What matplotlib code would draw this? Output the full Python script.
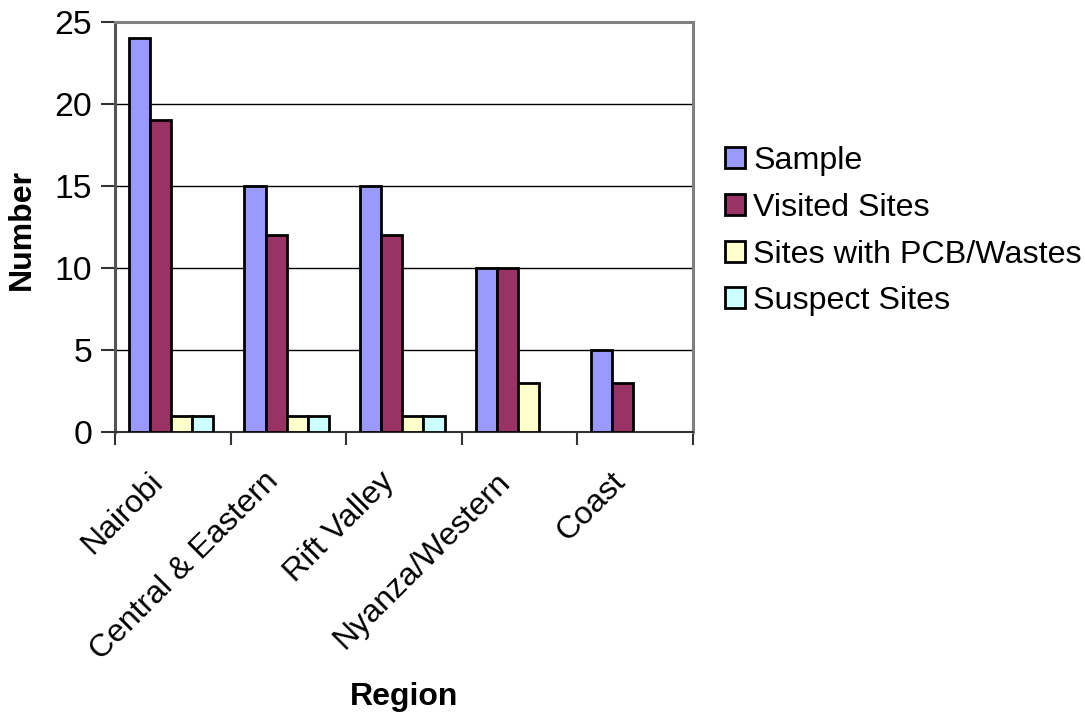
import numpy as np
import matplotlib
matplotlib.use("Agg")
import matplotlib.pyplot as plt
from matplotlib.patches import Patch
from matplotlib.transforms import ScaledTranslation

plt.rcParams['font.family'] = ['Liberation Sans', 'DejaVu Sans']

regions = ["Nairobi", "Central & Eastern", "Rift Valley", "Nyanza/Western", "Coast"]
series_names = ["Sample", "Visited Sites", "Sites with PCB/Wastes", "Suspect Sites"]
sample = [24, 15, 15, 10, 5]
visited = [19, 12, 12, 10, 3]
pcb = [1, 1, 1, 3, 0]
suspect = [1, 1, 1, 0, 0]
colors = ["#9999FF", "#993366", "#FFFFCC", "#CCFFFF"]

W, H = 1085, 719
fig = plt.figure(figsize=(W / 100, H / 100), dpi=100)
ax = fig.add_axes([115 / W, 1 - 432 / H, (693 - 115) / W, (432 - 22) / H])

fs_ytick = 24.3
fs_xtick = 23
fs_title = 23
fs_leg = 23.2
x = np.arange(len(regions))
bw = 0.183
all_series = [sample, visited, pcb, suspect]
for k, (vals, col) in enumerate(zip(all_series, colors)):
    offs = (k - 1.5) * bw - 0.015
    xs = [xi + offs for xi, v in zip(x, vals) if v > 0]
    hs = [v for v in vals if v > 0]
    ax.bar(xs, hs, width=bw, color=col, edgecolor="black", linewidth=2.0, zorder=3)

ax.set_xlim(-0.5, len(regions) - 0.5)
ax.set_ylim(0, 25)
ax.set_yticks([0, 5, 10, 15, 20, 25])
ax.yaxis.grid(True, color="black", linewidth=1.0, zorder=0)
ax.set_axisbelow(True)

ax.set_xticks(np.arange(-0.5, len(regions), 1.0))
ax.set_xticklabels([])
ax.set_xticks(x, minor=True)
ax.set_xticklabels(regions, minor=True, rotation=45, ha="right", va="center",
                   rotation_mode="anchor", fontsize=fs_xtick)
ax.tick_params(axis="x", which="minor", length=0, pad=32.5)
ax.tick_params(axis="x", which="major", length=9, width=1.5, color="#333333", direction="out")
ax.tick_params(axis="y", length=10, width=1.5, color="#333333", labelsize=fs_ytick, pad=6.5)
shift = ScaledTranslation(-0.14, 0, fig.dpi_scale_trans)
for lbl in ax.get_xticklabels(minor=True):
    lbl.set_transform(lbl.get_transform() + shift)

for s in ["left", "top", "right"]:
    ax.spines[s].set_color("#808080")
    ax.spines[s].set_linewidth(2.2)
ax.spines["left"].set_color("#555555")
ax.spines["bottom"].set_color("#333333")
ax.spines["bottom"].set_linewidth(1.5)

fig.text(22 / W, 1 - 230 / H, "Number", fontsize=fs_title, fontweight="bold",
         rotation=90, ha="center", va="center")
fig.text((115 + 693) / 2 / W, 1 - 697 / H, "Region", fontsize=fs_title, fontweight="bold",
         ha="center", va="center")

handles = [Patch(facecolor=c, edgecolor="black", linewidth=2.0) for c in colors]
fig.legend(handles, series_names, loc="upper left", bbox_to_anchor=(725 / W, 1 - 146 / H),
           frameon=False, fontsize=fs_leg, handlelength=0.62, handleheight=0.62,
           handletextpad=0.25, labelspacing=0.52, borderpad=0, borderaxespad=0)

fig.savefig("out.png", dpi=100, facecolor="white")
